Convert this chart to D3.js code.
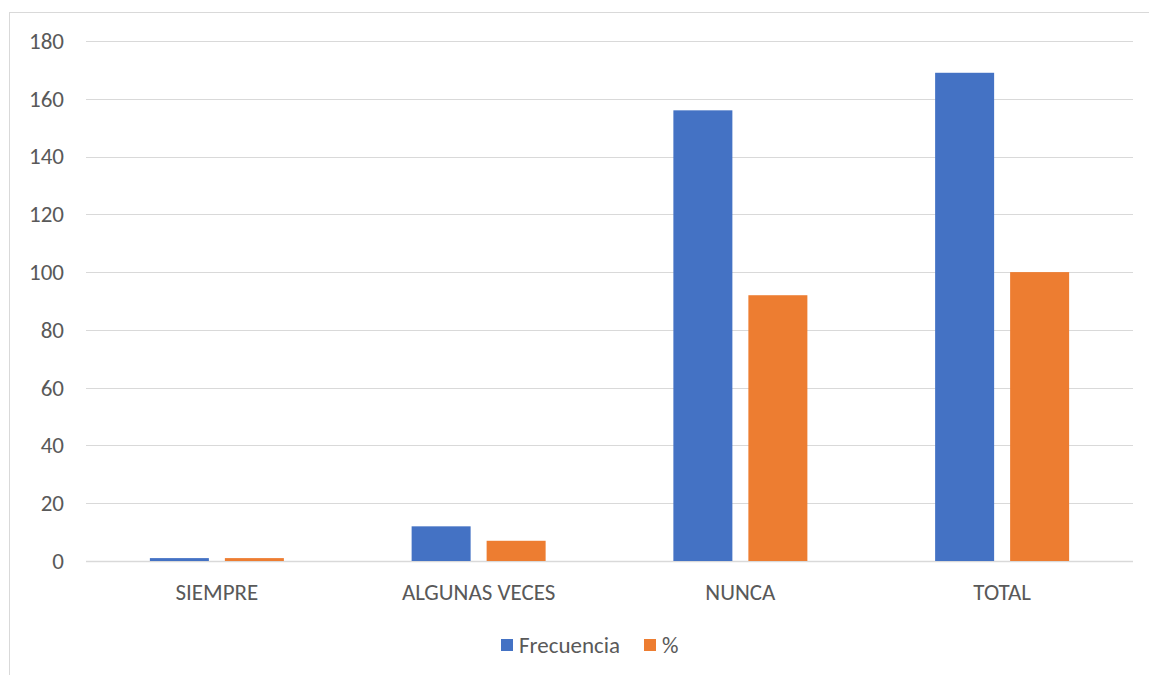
<!DOCTYPE html>
<html><head><meta charset="utf-8">
<script src="https://cdn.jsdelivr.net/npm/d3@7"></script>
<style>body{margin:0;background:#fff;} svg{display:block;}</style>
</head><body>
<script>
const categories = ["SIEMPRE", "ALGUNAS VECES", "NUNCA", "TOTAL"];
const seriesNames = ["Frecuencia", "%"];
const frecuencia = [1, 12, 156, 169];
const porcentaje = [1, 7, 92, 100];
const yTicks = [0, 20, 40, 60, 80, 100, 120, 140, 160, 180];
const colors = ["#4472C4", "#ED7D31"];

(function () {
const W = 1149, H = 675;
const font = "Carlito, Lato, 'Open Sans', sans-serif";
const fs = 23;
const svg = d3.select("body").append("svg").attr("width", W).attr("height", H);

// chart frame
svg.append("rect").attr("x", 9.5).attr("y", 12.5).attr("width", W + 10).attr("height", H + 10)
  .attr("fill", "none").attr("stroke", "#d9d9d9").attr("stroke-width", 1);

const pLeft = 86, pRight = 1133, pTop = 41, pBottom = 561;
const x = d3.scaleBand().domain(categories).range([pLeft, pRight]);
const y = d3.scaleLinear().domain([0, 180]).range([pBottom, pTop]);

// gridlines
svg.append("g").selectAll("line").data(yTicks).join("line")
  .attr("x1", pLeft).attr("x2", pRight)
  .attr("y1", d => Math.round(y(d)) + 0.5).attr("y2", d => Math.round(y(d)) + 0.5)
  .attr("stroke", "#d9d9d9").attr("stroke-width", d => d === 0 ? 1.5 : 1);

// y axis labels
const yAxis = d3.axisLeft(y).tickValues(yTicks).tickSize(0).tickPadding(0);
const ya = svg.append("g").attr("transform", `translate(64,0)`).call(yAxis);
ya.select(".domain").remove();
ya.selectAll("text").attr("font-family", font).attr("font-size", fs).attr("fill", "#595959");

// x axis labels
const xAxis = d3.axisBottom(x).tickSize(0).tickPadding(0);
const xa = svg.append("g").attr("transform", `translate(0,${pBottom})`).call(xAxis);
xa.select(".domain").remove();
xa.selectAll("text").attr("y", 31).attr("dy", "0.35em")
  .attr("font-family", font).attr("font-size", fs).attr("fill", "#595959");

// bars
const barW = 59, gap = 16;
const xs = d3.scaleOrdinal().domain(seriesNames).range([-(gap / 2 + barW), gap / 2]);
const data = [frecuencia, porcentaje];
data.forEach((vals, si) => {
  svg.append("g").selectAll("rect").data(categories).join("rect")
    .attr("x", c => x(c) + x.bandwidth() / 2 + xs(seriesNames[si]))
    .attr("width", barW)
    .attr("y", (c, i) => y(vals[i]))
    .attr("height", (c, i) => y(0) - y(vals[i]))
    .attr("fill", colors[si]);
});

// legend
const lg = svg.append("g").attr("font-family", font).attr("font-size", fs).attr("fill", "#595959");
const legendX = [501, 644];
seriesNames.forEach((n, i) => {
  lg.append("rect").attr("x", legendX[i]).attr("y", 639).attr("width", 12).attr("height", 12).attr("fill", colors[i]);
  lg.append("text").attr("x", legendX[i] + 18).attr("y", 645).attr("dy", "0.35em").text(n);
});
})();
</script>
</body></html>
